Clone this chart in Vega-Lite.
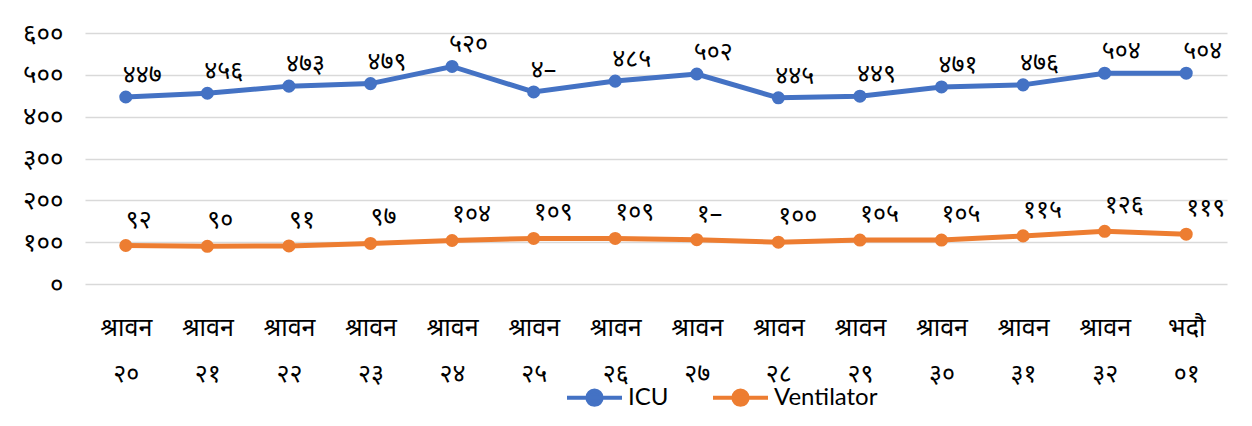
{
  "$schema": "https://vega.github.io/schema/vega-lite/v6.json",
  "autosize": "none",
  "width": 1142,
  "height": 251,
  "padding": {"left": 85, "top": 33, "right": 25, "bottom": 142},
  "background": "white",
  "config": {
    "view": {"stroke": null},
    "font": "Noto Sans",
    "axis": {"grid": true, "gridColor": "#D9D9D9", "gridWidth": 1.3, "domain": false, "ticks": false, "labelColor": "#000000", "title": null}
  },
  "data": {
    "values": [
      {"day": "श्रावन २०", "series": "ICU", "value": 447, "label": "४४७"},
      {"day": "श्रावन २१", "series": "ICU", "value": 456, "label": "४५६"},
      {"day": "श्रावन २२", "series": "ICU", "value": 473, "label": "४७३"},
      {"day": "श्रावन २३", "series": "ICU", "value": 479, "label": "४७९"},
      {"day": "श्रावन २४", "series": "ICU", "value": 520, "label": "५२०"},
      {"day": "श्रावन २५", "series": "ICU", "value": 459, "label": "४–"},
      {"day": "श्रावन २६", "series": "ICU", "value": 485, "label": "४८५"},
      {"day": "श्रावन २७", "series": "ICU", "value": 502, "label": "५०२"},
      {"day": "श्रावन २८", "series": "ICU", "value": 445, "label": "४४५"},
      {"day": "श्रावन २९", "series": "ICU", "value": 449, "label": "४४९"},
      {"day": "श्रावन ३०", "series": "ICU", "value": 471, "label": "४७१"},
      {"day": "श्रावन ३१", "series": "ICU", "value": 476, "label": "४७६"},
      {"day": "श्रावन ३२", "series": "ICU", "value": 504, "label": "५०४"},
      {"day": "भदौ ०१", "series": "ICU", "value": 504, "label": "५०४"},
      {"day": "श्रावन २०", "series": "Ventilator", "value": 92, "label": "९२"},
      {"day": "श्रावन २१", "series": "Ventilator", "value": 90, "label": "९०"},
      {"day": "श्रावन २२", "series": "Ventilator", "value": 91, "label": "९१"},
      {"day": "श्रावन २३", "series": "Ventilator", "value": 97, "label": "९७"},
      {"day": "श्रावन २४", "series": "Ventilator", "value": 104, "label": "१०४"},
      {"day": "श्रावन २५", "series": "Ventilator", "value": 109, "label": "१०९"},
      {"day": "श्रावन २६", "series": "Ventilator", "value": 109, "label": "१०९"},
      {"day": "श्रावन २७", "series": "Ventilator", "value": 106, "label": "१–"},
      {"day": "श्रावन २८", "series": "Ventilator", "value": 100, "label": "१००"},
      {"day": "श्रावन २९", "series": "Ventilator", "value": 105, "label": "१०५"},
      {"day": "श्रावन ३०", "series": "Ventilator", "value": 105, "label": "१०५"},
      {"day": "श्रावन ३१", "series": "Ventilator", "value": 115, "label": "११५"},
      {"day": "श्रावन ३२", "series": "Ventilator", "value": 126, "label": "१२६"},
      {"day": "भदौ ०१", "series": "Ventilator", "value": 119, "label": "११९"}
    ]
  },
  "encoding": {
    "x": {
      "field": "day", "type": "nominal", "sort": null,
      "axis": {"grid": false, "labelAngle": 0, "labelFontSize": 25, "labelLineHeight": 46, "labelPadding": 43, "labelBaseline": "middle", "labelFontWeight": "normal", "labelExpr": "split(datum.label, ' ')"}
    },
    "y": {
      "field": "value", "type": "quantitative",
      "scale": {"domain": [0, 600], "nice": false},
      "axis": {"values": [0, 100, 200, 300, 400, 500, 600], "labelFontSize": 26, "labelPadding": 22,
        "labelExpr": "datum.value == 0 ? '०' : datum.value == 100 ? '१००' : datum.value == 200 ? '२००' : datum.value == 300 ? '३००' : datum.value == 400 ? '४००' : datum.value == 500 ? '५००' : '६००'"}
    },
    "color": {
      "field": "series", "type": "nominal",
      "scale": {"domain": ["ICU", "Ventilator"], "range": ["#4472C4", "#ED7D31"]},
      "legend": {
        "title": null, "orient": "none", "direction": "horizontal", "legendX": 480, "legendY": 335,
        "symbolType": "M-1,0L1,0M-0.26,0A0.26,0.26 0 1,0 0.26,0A0.26,0.26 0 1,0 -0.26,0",
        "symbolSize": 3025, "symbolStrokeWidth": 4, "labelFontSize": 24, "labelFont": "Lato", "labelColor": "#000000",
        "labelOffset": 4, "columnPadding": 36,
        "encode": {"symbols": {"update": {"fill": {"scale": "color", "field": "value"}, "opacity": {"value": 1}}}}
      }
    }
  },
  "layer": [
    {"mark": {"type": "line", "strokeWidth": 5}},
    {"mark": {"type": "point", "filled": true, "size": 170, "opacity": 1}},
    {
      "transform": [{"filter": "datum.series == 'ICU'"}],
      "mark": {"type": "text", "align": "left", "baseline": "middle", "dx": -3, "dy": -22, "fontSize": 25, "color": "#000000"},
      "encoding": {"text": {"field": "label"}, "color": {"value": "#000000"}}
    },
    {
      "transform": [{"filter": "datum.series == 'Ventilator'"}],
      "mark": {"type": "text", "align": "left", "baseline": "middle", "dx": 0, "dy": -26, "fontSize": 25, "color": "#000000"},
      "encoding": {"text": {"field": "label"}, "color": {"value": "#000000"}}
    }
  ]
}
